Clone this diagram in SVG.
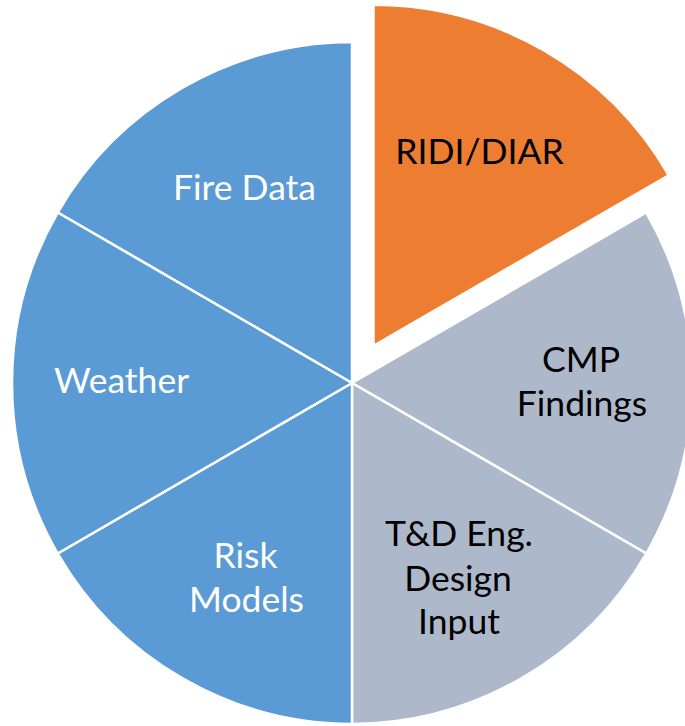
<svg xmlns="http://www.w3.org/2000/svg" width="685" height="726" viewBox="0 0 685 726">
<style>
.slice{stroke:#FFFFFF;stroke-width:2.5;stroke-linejoin:round}
.blue{fill:#5B9BD5}
.gray{fill:#ADB9CA}
.orange{fill:#ED7D31}
.lbl{font-family:Lato,"Open Sans","Liberation Sans",sans-serif;font-size:35.5px;text-anchor:middle}
.w{fill:#FFFFFF}
.k{fill:#000000}
</style>
<rect width="685" height="726" fill="#FFFFFF"/>
<g id="fire-data">
<path class="slice blue" d="M352,383 L57.68,212.5 A341,341 0 0 1 352,42 Z"/>
<text class="lbl w" x="244.5" y="200">Fire Data</text>
</g>
<g id="ridi-diar">
<path class="slice orange" d="M373.5,345.8 L373.5,4.8 A341,341 0 0 1 668.82,175.3 Z"/>
<text class="lbl k" x="479.5" y="164">RIDI/DIAR</text>
</g>
<g id="cmp-findings">
<path class="slice gray" d="M352,383 L646.32,212.5 A341,341 0 0 1 646.32,553.5 Z"/>
<text class="lbl k" x="581" y="372">CMP</text>
<text class="lbl k" x="582" y="416">Findings</text>
</g>
<g id="td-eng">
<path class="slice gray" d="M352,383 L646.32,553.5 A341,341 0 0 1 352,724 Z"/>
<text class="lbl k" x="459" y="546">T&amp;D Eng.</text>
<text class="lbl k" x="458" y="590.5">Design</text>
<text class="lbl k" x="459" y="634">Input</text>
</g>
<g id="risk-models">
<path class="slice blue" d="M352,383 L352,724 A341,341 0 0 1 57.68,553.5 Z"/>
<text class="lbl w" x="245.5" y="568">Risk</text>
<text class="lbl w" x="246.5" y="612">Models</text>
</g>
<g id="weather">
<path class="slice blue" d="M352,383 L57.68,553.5 A341,341 0 0 1 57.68,212.5 Z"/>
<text class="lbl w" x="121.5" y="393">Weather</text>
</g>
<g id="connectors"></g>
</svg>
